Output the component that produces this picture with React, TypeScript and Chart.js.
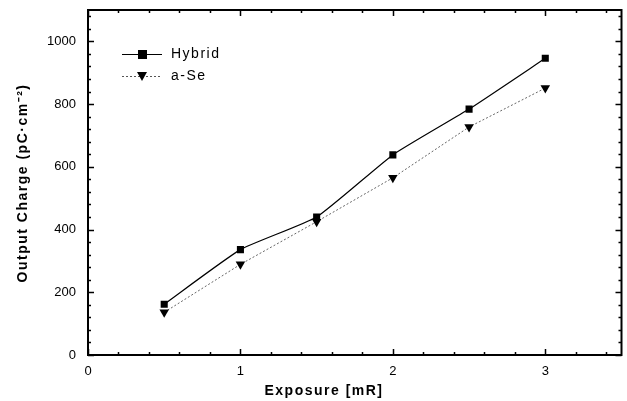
import React, { useEffect, useRef } from "react";
import { Chart, registerables } from "chart.js";

Chart.register(...registerables);

const exposure = [0.5, 1, 1.5, 2, 2.5, 3];
const hybrid = [162, 336, 440, 638, 784, 946];
const aSe = [136, 289, 425, 565, 727, 851];
const xMajorTicks = [0, 1, 2, 3];
const yMajorTicks = [0, 200, 400, 600, 800, 1000];

const FONT = "'Liberation Sans', Arial, sans-serif";

const framePlugin = {
  id: "frame",
  afterDatasetsDraw(chart: any) {
    const { ctx, chartArea: a, scales } = chart;
    const xs = scales.x;
    const ys = scales.y;
    ctx.save();
    ctx.strokeStyle = "#000";
    ctx.lineWidth = 2;
    ctx.strokeRect(a.left, a.top, a.right - a.left, a.bottom - a.top);
    ctx.lineWidth = 1.5;
    for (let i = 0; i <= 17; i++) {
      const v = i * 0.2;
      const px = Math.round(xs.getPixelForValue(v)) + 0.5;
      const major = Math.abs(v - Math.round(v)) < 1e-6;
      const len = major ? 6 : 3;
      ctx.beginPath();
      ctx.moveTo(px, a.bottom);
      ctx.lineTo(px, a.bottom - len);
      ctx.moveTo(px, a.top);
      ctx.lineTo(px, a.top + len);
      ctx.stroke();
    }
    for (let i = 0; i <= 27; i++) {
      const v = i * 40;
      const py = Math.round(ys.getPixelForValue(v)) + 0.5;
      const major = v % 200 === 0;
      const len = major ? 6 : 3;
      ctx.beginPath();
      ctx.moveTo(a.left, py);
      ctx.lineTo(a.left + len, py);
      ctx.moveTo(a.right, py);
      ctx.lineTo(a.right - len, py);
      ctx.stroke();
    }
    const items = [
      { label: "Hybrid", y: 54, style: "square", dash: [] as number[], color: "#000", lw: 1.2 },
      { label: "a-Se", y: 76, style: "tri", dash: [2, 2], color: "#555", lw: 1 },
    ];
    ctx.font = `14px ${FONT}`;
    ctx.letterSpacing = "1.5px";
    ctx.textBaseline = "middle";
    ctx.textAlign = "left";
    for (const it of items) {
      ctx.strokeStyle = it.color;
      ctx.lineWidth = it.lw;
      ctx.setLineDash(it.dash);
      ctx.beginPath();
      ctx.moveTo(122, it.y + 0.5);
      ctx.lineTo(162, it.y + 0.5);
      ctx.stroke();
      ctx.setLineDash([]);
      ctx.fillStyle = "#000";
      if (it.style === "square") {
        ctx.fillRect(138, it.y - 4, 9, 9);
      } else {
        ctx.beginPath();
        ctx.moveTo(137, it.y - 4);
        ctx.lineTo(147, it.y - 4);
        ctx.lineTo(142, it.y + 5);
        ctx.closePath();
        ctx.fill();
      }
      ctx.fillText(it.label, 171, it.y);
    }
    ctx.font = `bold 14px ${FONT}`;
    ctx.letterSpacing = "1.5px";
    ctx.textAlign = "center";
    ctx.fillText("Exposure [mR]", 324, 391);
    ctx.translate(23, 183);
    ctx.rotate(-Math.PI / 2);
    ctx.fillText("Output Charge (pC·cm\u207B\u00B2)", 0, 0);
    ctx.restore();
  },
};

export default function App() {
  const ref = useRef<HTMLCanvasElement>(null);
  useEffect(() => {
    document.body.style.margin = "0";
    const chart = new Chart(ref.current!, {
      type: "line",
      data: {
        datasets: [
          {
            label: "Hybrid",
            data: exposure.map((x, i) => ({ x, y: hybrid[i] })),
            borderColor: "#000",
            borderWidth: 1.2,
            pointStyle: "rect",
            pointRadius: 5,
            pointBackgroundColor: "#000",
            pointBorderColor: "#000",
            pointBorderWidth: 0,
            tension: 0.15,
          },
          {
            label: "a-Se",
            data: exposure.map((x, i) => ({ x, y: aSe[i] })),
            borderColor: "#666",
            borderWidth: 1,
            borderDash: [2, 2],
            pointStyle: "triangle",
            rotation: 180,
            pointRadius: 5.5,
            pointBackgroundColor: "#000",
            pointBorderColor: "#000",
            pointBorderWidth: 0,
            tension: 0,
          },
        ],
      },
      options: {
        animation: false,
        responsive: false,
        layout: { padding: { top: 10, right: 1, left: 0, bottom: 0 } },
        plugins: { legend: { display: false }, tooltip: { enabled: false } },
        scales: {
          x: {
            type: "linear",
            min: 0,
            max: 3.5,
            afterBuildTicks: (s: any) => {
              s.ticks = xMajorTicks.map((v) => ({ value: v }));
            },
            afterFit: (s: any) => {
              s.height = 46;
              s.paddingLeft = 0;
              s.paddingRight = 0;
            },
            grid: { display: false, drawTicks: false },
            border: { display: false },
            ticks: {
              padding: 9,
              color: "#000",
              font: { family: FONT, size: 13 },
              callback: (v: any) => String(v),
            },
          },
          y: {
            type: "linear",
            min: 0,
            max: 1100,
            afterBuildTicks: (s: any) => {
              s.ticks = yMajorTicks.map((v) => ({ value: v }));
            },
            afterFit: (s: any) => {
              s.width = 88;
              s.paddingTop = 0;
              s.paddingBottom = 0;
            },
            grid: { display: false, drawTicks: false },
            border: { display: false },
            ticks: {
              padding: 12,
              color: "#000",
              font: { family: FONT, size: 13 },
              callback: (v: any) => String(v),
            },
          },
        },
      },
      plugins: [framePlugin],
    });
    return () => chart.destroy();
  }, []);
  return (
    <div style={{ width: 627, height: 401 }}>
      <canvas ref={ref} width={627} height={401} style={{ width: 627, height: 401 }} />
    </div>
  );
}
